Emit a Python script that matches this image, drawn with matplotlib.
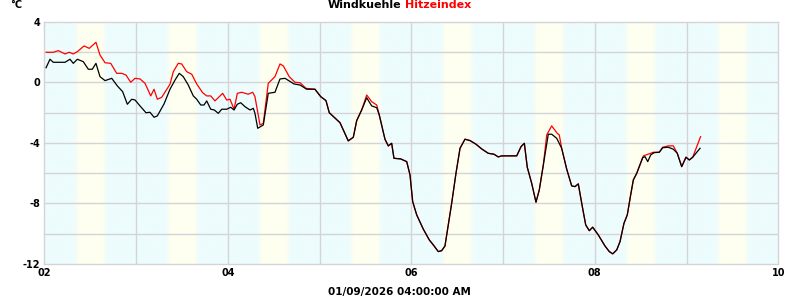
import matplotlib
matplotlib.use("Agg")
import matplotlib.pyplot as plt
from matplotlib.colors import to_rgb
import numpy as np

# Windkuehle (black), day of month vs degC
WC_DAY = [
    2.019, 2.062, 2.098, 2.226, 2.280, 2.316, 2.360, 2.425, 2.480, 2.523,
    2.563, 2.607, 2.662, 2.735, 2.796, 2.854, 2.905, 2.953, 2.989, 3.043,
    3.108, 3.152, 3.196, 3.232, 3.305, 3.370, 3.425, 3.471, 3.515, 3.569,
    3.624, 3.661, 3.705, 3.741, 3.770, 3.814, 3.853, 3.896, 3.934, 3.988,
    4.032, 4.068, 4.104, 4.141, 4.187, 4.242, 4.278, 4.296, 4.326, 4.387,
    4.424, 4.441, 4.514, 4.569, 4.624, 4.670, 4.722, 4.787, 4.860, 4.950,
    5.013, 5.070, 5.106, 5.179, 5.223, 5.313, 5.368, 5.405, 5.459, 5.514,
    5.568, 5.623, 5.651, 5.677, 5.713, 5.749, 5.786, 5.811, 5.884, 5.950,
    5.986, 6.015, 6.059, 6.131, 6.196, 6.240, 6.294, 6.331, 6.367, 6.403,
    6.440, 6.487, 6.531, 6.585, 6.640, 6.705, 6.767, 6.839, 6.901, 6.948,
    6.985, 7.149, 7.196, 7.232, 7.264, 7.312, 7.359, 7.395, 7.439, 7.476,
    7.493, 7.530, 7.585, 7.639, 7.694, 7.748, 7.784, 7.820, 7.864, 7.901,
    7.940, 7.977, 8.038, 8.111, 8.158, 8.195, 8.239, 8.275, 8.318, 8.354,
    8.391, 8.420, 8.457, 8.522, 8.547, 8.577, 8.609, 8.645, 8.703, 8.740,
    8.801, 8.856, 8.899, 8.947, 8.994, 9.030, 9.067, 9.147,
]
WC_VAL = [
    0.96, 1.52, 1.32, 1.32, 1.52, 1.25, 1.52, 1.36, 0.86, 0.86,
    1.25, 0.37, 0.11, 0.26, -0.24, -0.62, -1.45, -1.12, -1.17, -1.56,
    -2.01, -1.98, -2.31, -2.22, -1.43, -0.46, 0.15, 0.59, 0.37, -0.18,
    -0.90, -1.12, -1.50, -1.50, -1.23, -1.78, -1.83, -2.05, -1.78, -1.78,
    -1.65, -1.83, -1.45, -1.35, -1.61, -1.83, -1.72, -2.05, -3.04, -2.82,
    -1.39, -0.73, -0.66, 0.22, 0.26, 0.09, -0.11, -0.18, -0.46, -0.46,
    -0.95, -1.21, -2.01, -2.42, -2.67, -3.87, -3.63, -2.53, -1.83, -1.02,
    -1.56, -1.68, -2.16, -2.82, -3.76, -4.20, -4.03, -5.02, -5.06, -5.24,
    -6.12, -7.88, -8.76, -9.70, -10.41, -10.74, -11.18, -11.12, -10.81, -9.42,
    -7.99, -6.01, -4.36, -3.76, -3.85, -4.09, -4.40, -4.69, -4.75, -4.93,
    -4.86, -4.86, -4.25, -4.03, -5.61, -6.67, -7.92, -7.11, -5.46, -4.03,
    -3.43, -3.43, -3.70, -4.36, -5.74, -6.84, -6.89, -6.71, -8.21, -9.42,
    -9.80, -9.57, -10.08, -10.81, -11.18, -11.33, -11.07, -10.52, -9.31, -8.76,
    -7.44, -6.45, -6.01, -4.98, -4.91, -5.24, -4.80, -4.65, -4.62, -4.32,
    -4.29, -4.42, -4.69, -5.57, -4.95, -5.13, -4.95, -4.36,
]

# Hitzeindex (red)
HI_DAY = [
    2.019, 2.098, 2.153, 2.226, 2.272, 2.316, 2.360, 2.433, 2.490, 2.563,
    2.607, 2.662, 2.724, 2.789, 2.844, 2.890, 2.942, 2.989, 3.043, 3.098,
    3.160, 3.196, 3.232, 3.280, 3.370, 3.406, 3.460, 3.497, 3.552, 3.607,
    3.661, 3.726, 3.770, 3.814, 3.860, 3.944, 3.988, 4.024, 4.068, 4.104,
    4.152, 4.223, 4.271, 4.296, 4.351, 4.387, 4.441, 4.514, 4.569, 4.605,
    4.670, 4.732, 4.787, 4.852,
    4.950, 5.013, 5.070, 5.106, 5.179, 5.223, 5.313, 5.368, 5.405, 5.459,
    5.514, 5.568, 5.623, 5.651, 5.677, 5.713, 5.749, 5.786, 5.811, 5.884,
    5.950, 5.986, 6.015, 6.059, 6.131, 6.196, 6.240, 6.294, 6.331, 6.367,
    6.403, 6.440, 6.487, 6.531, 6.585, 6.640, 6.705, 6.767, 6.839, 6.901,
    6.948, 6.985, 7.149, 7.196, 7.232, 7.264, 7.312, 7.359, 7.395, 7.439,
    7.476, 7.530, 7.591, 7.613, 7.639, 7.694, 7.748, 7.784, 7.820, 7.864,
    7.901, 7.940, 7.977, 8.038, 8.111, 8.158, 8.195, 8.239, 8.275, 8.318,
    8.354, 8.391, 8.420, 8.457, 8.529, 8.609, 8.638, 8.703, 8.740, 8.801,
    8.856, 8.899, 8.947, 8.994, 9.030, 9.067, 9.153,
]
HI_VAL = [
    1.98, 1.98, 2.09, 1.87, 1.98, 1.87, 2.02, 2.40, 2.24, 2.64,
    1.80, 1.29, 1.25, 0.59, 0.59, 0.48, 0.00, 0.26, 0.22, -0.07,
    -0.90, -0.46, -1.12, -0.99, -0.13, 0.70, 1.25, 1.21, 0.70, 0.53,
    -0.11, -0.69, -0.90, -0.90, -1.23, -0.73, -1.17, -1.12, -1.78, -0.73,
    -0.66, -0.79, -0.66, -0.95, -2.82, -2.71, -0.07, 0.37, 1.21, 1.08,
    0.37, 0.00, -0.03, -0.40,
    -0.46, -0.95, -1.21, -2.01, -2.42, -2.67, -3.87, -3.63, -2.53, -1.83,
    -0.84, -1.28, -1.50, -2.16, -2.82, -3.76, -4.20, -4.03, -5.02, -5.06,
    -5.24, -6.12, -7.88, -8.76, -9.70, -10.41, -10.74, -11.18, -11.12, -10.81,
    -9.42, -7.99, -6.01, -4.36, -3.76, -3.85, -4.09, -4.40, -4.69, -4.75,
    -4.93, -4.86, -4.86, -4.25, -4.03, -5.61, -6.67, -7.92, -7.11, -5.46,
    -3.48, -2.88, -3.37, -3.48, -4.36, -5.74, -6.84, -6.89, -6.71, -8.21,
    -9.42, -9.80, -9.57, -10.08, -10.81, -11.18, -11.33, -11.07, -10.52, -9.31,
    -8.76, -7.44, -6.45, -6.01, -4.86, -4.69, -4.62, -4.62, -4.29, -4.20,
    -4.20, -4.69, -5.57, -4.95, -5.13, -4.95, -3.59,
]

X_TICKS = [2, 4, 6, 8, 10]
Y_TICKS = [4, 0, -4, -8, -12]
TITLE_LEFT = "Windkuehle"
TITLE_RIGHT = "Hitzeindex"
X_LABEL = "01/09/2026 04:00:00 AM"

# daylight band as fraction of the day
SUNRISE = 0.352
SUNSET = 0.663

NIGHT = "#edfcfd"
DAYLIGHT = "#fefff0"
GRID = "#d4d4d8"


def daylight_row(x, soft=0.025):
    frac = x % 1.0
    up = np.clip((frac - (SUNRISE - soft)) / (2 * soft), 0, 1)
    down = np.clip(((SUNSET + soft) - frac) / (2 * soft), 0, 1)
    w = np.minimum(up, down)[:, None]
    return (1 - w) * np.array(to_rgb(NIGHT)) + w * np.array(to_rgb(DAYLIGHT))


fig = plt.figure(figsize=(8, 3), dpi=100)
ax = fig.add_axes([44.3 / 800, 1 - 264 / 300, (778.3 - 44.3) / 800, (264 - 21.7) / 300])

xs = np.linspace(2, 10, 1600)
bg = daylight_row(xs)[None, :, :]
ax.imshow(bg, extent=(2, 10, -12, 4), aspect="auto", interpolation="bilinear", zorder=0)

for d in range(3, 10):
    ax.axvline(d, color=GRID, lw=1.0, zorder=1)
for v in range(-10, 4, 2):
    ax.axhline(v, color=GRID, lw=1.0, zorder=1)

ax.plot(HI_DAY, HI_VAL, color="#ff0000", lw=0.9, zorder=2)
ax.plot(WC_DAY, WC_VAL, color="#000000", lw=0.9, zorder=3)

ax.set_xlim(2, 10)
ax.set_ylim(-12, 4)
ax.set_xticks(X_TICKS)
ax.set_xticklabels([f"{t:02d}" for t in X_TICKS])
ax.set_yticks(Y_TICKS)
ax.set_yticklabels([str(t) for t in Y_TICKS])
ax.tick_params(length=0, labelsize=7, pad=3)
for lab in ax.get_xticklabels() + ax.get_yticklabels():
    lab.set_fontweight("bold")
for spine in ax.spines.values():
    spine.set_color(GRID)
    spine.set_linewidth(1.0)

fig.text(10 / 800, 1 - 5 / 300, "°C", fontsize=7, fontweight="bold", va="center", ha="left")
fig.text(401 / 800, 1 - 5 / 300, TITLE_LEFT, fontsize=8, fontweight="bold", va="center", ha="right", color="#000000")
fig.text(405 / 800, 1 - 5 / 300, TITLE_RIGHT, fontsize=8, fontweight="bold", va="center", ha="left", color="#ff0000")
fig.text(399 / 800, 1 - 292 / 300, X_LABEL, fontsize=7.5, fontweight="bold", va="center", ha="center")

fig.savefig("out.png", dpi=100)
